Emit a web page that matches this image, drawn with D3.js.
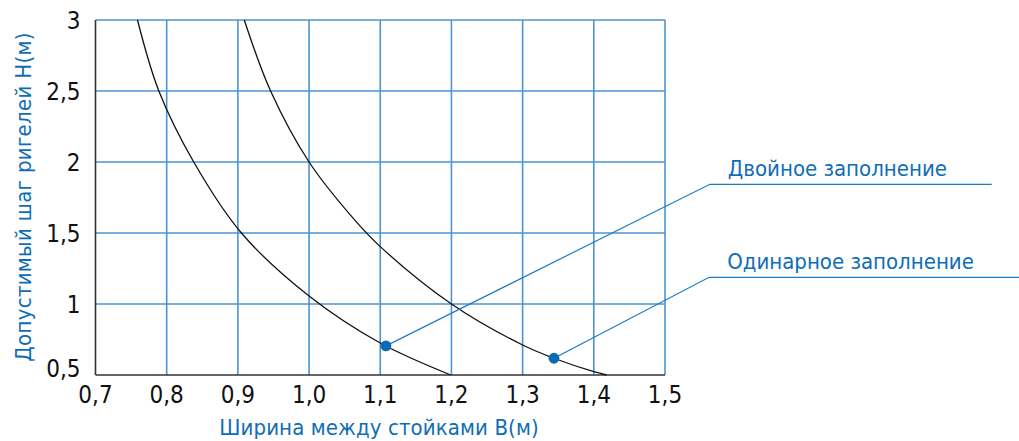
<!DOCTYPE html>
<html>
<head>
<meta charset="utf-8">
<script src="https://cdn.jsdelivr.net/npm/d3@7"></script>
<style>
  body { margin: 0; background: #fff; }
  text { font-family: "DejaVu Sans Condensed", "Liberation Sans Narrow", "Roboto", sans-serif; font-stretch: condensed; }
</style>
</head>
<body>
<svg width="1019" height="441"></svg>
<script>
// values
var xTicks = [0.7, 0.8, 0.9, 1.0, 1.1, 1.2, 1.3, 1.4, 1.5];
var yTicks = [0.5, 1, 1.5, 2, 2.5, 3];

// left curve (двойное заполнение)
var doubleB = [0.759, 0.789, 0.838, 0.905, 1.0, 1.1, 1.199];
var doubleH = [3.0, 2.5, 2.0, 1.5, 1.056, 0.725, 0.5];

// right curve (одинарное заполнение)
var singleB = [0.909, 0.946, 1.0, 1.064, 1.1, 1.2, 1.3, 1.344, 1.4, 1.418];
var singleH = [3.0, 2.5, 2.0, 1.592, 1.404, 1.0, 0.711, 0.618, 0.523, 0.5];

// marked points and their labels
var labels = ["Двойное заполнение", "Одинарное заполнение"];
var markB = [1.108, 1.344];
var markH = [0.705, 0.618];
var elbowB = [1.563, 1.562];
var elbowH = [1.843, 1.188];
var endB = [1.959, 2.0];

var svg = d3.select("svg"),
    margin = {left: 95.5, top: 20},
    width = 569.5,
    height = 355;

var blue = "#1a7cc8",
    gridBlue = "#4d94d2",
    textBlue = "#0f6db6";

var x = d3.scaleLinear().domain([0.7, 1.5]).range([margin.left, margin.left + width]);
var y = d3.scaleLinear().domain([0.5, 3]).range([margin.top + height, margin.top]);

// grid
svg.append("g").selectAll("line.v")
    .data(xTicks.slice(1))
    .enter().append("line")
    .attr("x1", function(d) { return x(d); })
    .attr("x2", function(d) { return x(d); })
    .attr("y1", y(0.5))
    .attr("y2", y(3))
    .style("stroke", gridBlue)
    .style("stroke-width", 1.6);

svg.append("g").selectAll("line.h")
    .data(yTicks.slice(1))
    .enter().append("line")
    .attr("x1", x(0.7))
    .attr("x2", x(1.5))
    .attr("y1", function(d) { return y(d); })
    .attr("y2", function(d) { return y(d); })
    .style("stroke", gridBlue)
    .style("stroke-width", 1.6);

// axes (left and bottom dark)
svg.append("line")
    .attr("x1", x(0.7)).attr("x2", x(0.7))
    .attr("y1", y(3)).attr("y2", y(0.5))
    .style("stroke", "#333").style("stroke-width", 1.6);
svg.append("line")
    .attr("x1", x(0.7)).attr("x2", x(1.5))
    .attr("y1", y(0.5)).attr("y2", y(0.5))
    .style("stroke", "#333").style("stroke-width", 1.6);

// tick labels
svg.append("g").selectAll("text")
    .data(xTicks)
    .enter().append("text")
    .attr("x", function(d) { return x(d); })
    .attr("y", y(0.5) + 28)
    .attr("text-anchor", "middle")
    .style("font-size", "24px")
    .style("fill", "#111")
    .text(function(d) { return d3.format(".1f")(d).replace(".", ","); });

svg.append("g").selectAll("text")
    .data(yTicks)
    .enter().append("text")
    .attr("x", x(0.7) - 15)
    .attr("y", function(d) { return d == 0.5 ? y(d) - 7 : y(d); })
    .attr("dy", "0.36em")
    .attr("text-anchor", "end")
    .style("font-size", "24px")
    .style("fill", "#111")
    .text(function(d) { return String(d).replace(".", ","); });

// axis titles
svg.append("text")
    .attr("x", 379)
    .attr("y", 435)
    .attr("text-anchor", "middle")
    .style("font-size", "22px")
    .style("letter-spacing", "0.1px")
    .style("fill", textBlue)
    .text("Ширина между стойками В(м)");

svg.append("text")
    .attr("transform", "translate(31,197) rotate(-90)")
    .attr("text-anchor", "middle")
    .style("font-size", "22px")
    .style("letter-spacing", "0.3px")
    .style("fill", textBlue)
    .text("Допустимый шаг ригелей Н(м)");

// curves
var line = d3.line()
    .x(function(d) { return x(d[0]); })
    .y(function(d) { return y(d[1]); })
    .curve(d3.curveCatmullRom.alpha(0.5));

[[doubleB, doubleH], [singleB, singleH]].forEach(function(s) {
  svg.append("path")
      .datum(d3.zip(s[0], s[1]))
      .attr("d", line)
      .style("fill", "none")
      .style("stroke", "#111")
      .style("stroke-width", 1.3);
});

// leaders, labels, dots
labels.forEach(function(t, i) {
  svg.append("polyline")
      .attr("points", [
        [x(markB[i]), y(markH[i])],
        [x(elbowB[i]), y(elbowH[i])],
        [x(endB[i]), y(elbowH[i])]
      ].join(" "))
      .style("fill", "none")
      .style("stroke", blue)
      .style("stroke-width", 1.2);

  svg.append("text")
      .attr("x", x(elbowB[i]) + 18)
      .attr("y", y(elbowH[i]) - 8)
      .style("font-size", "22px")
      .style("letter-spacing", "0px")
      .style("fill", textBlue)
      .text(t);

  svg.append("circle")
      .attr("cx", x(markB[i]))
      .attr("cy", y(markH[i]))
      .attr("r", 5.4)
      .style("fill", "#0a6ab2");
});
</script>
</body>
</html>
